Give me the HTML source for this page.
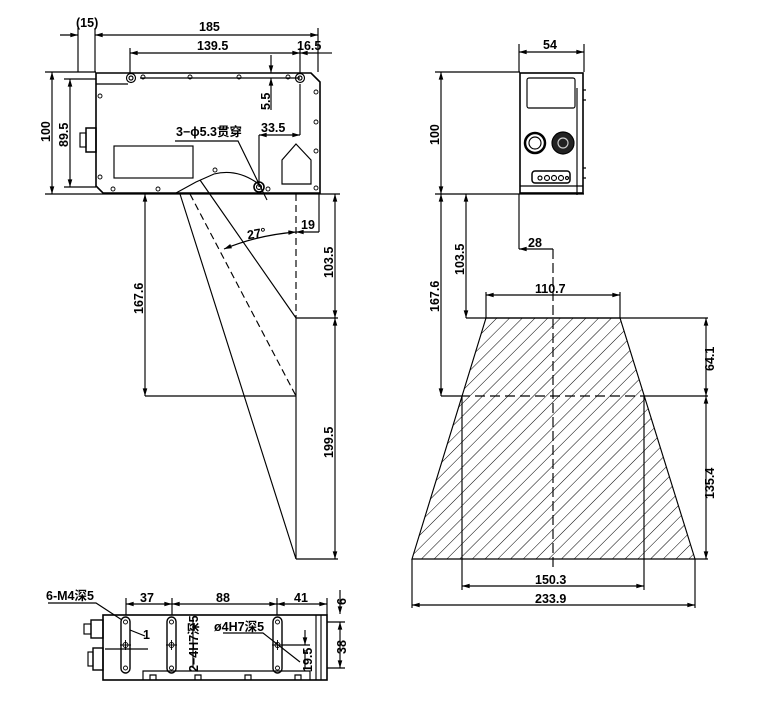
<!DOCTYPE html>
<html><head><meta charset="utf-8"><style>
html,body{margin:0;padding:0;background:#fff;}
svg{display:block;}
text{font-family:"Liberation Sans","Noto Sans CJK SC",sans-serif;font-size:12.5px;font-weight:600;fill:#000;}
</style></head><body>
<svg width="779" height="703" viewBox="0 0 779 703" xmlns="http://www.w3.org/2000/svg">
<defs>
<marker id="a" viewBox="0 0 10 6" refX="10" refY="3" markerWidth="8" markerHeight="4" orient="auto-start-reverse"><path d="M0,0L10,3L0,6z" fill="#000"/></marker>
<pattern id="h" width="9" height="9" patternUnits="userSpaceOnUse" patternTransform="rotate(45)"><line x1="0" y1="0" x2="0" y2="9" stroke="#000" stroke-width="1"/></pattern>
</defs>
<g stroke="#000" fill="none" stroke-width="1.15">
<path d="M96,73 L311,73 L320,82 L320,193 L103,193 L96,186 Z" stroke-width="1.6"/>
<path d="M96,84 L128,84 M140,78 L300,78"/>
<circle cx="131" cy="78" r="4.5"/><circle cx="131" cy="78" r="2"/>
<circle cx="300" cy="78" r="4.5"/><circle cx="300" cy="78" r="2"/>
<g stroke-width="0.9">
<circle cx="143" cy="77" r="2"/><circle cx="190" cy="77" r="2"/><circle cx="239" cy="77" r="2"/><circle cx="288" cy="77" r="2"/>
<circle cx="100" cy="96" r="2"/><circle cx="100" cy="177" r="2"/><circle cx="316" cy="92" r="2"/><circle cx="316" cy="122" r="2"/><circle cx="316" cy="151" r="2"/><circle cx="316" cy="188" r="2"/>
<circle cx="113" cy="189" r="2"/><circle cx="158" cy="189" r="2"/><circle cx="215" cy="170" r="2"/><circle cx="268" cy="189" r="2"/>
</g>
<rect x="114" y="146" width="79" height="32"/>
<path d="M296,144 L311,160 L311,184 L282,184 L282,160 Z"/>
<path d="M176,193 L196,182 L214,174 Q238,168 260,185"/>
<circle cx="259" cy="187" r="5" stroke-width="1.6"/><circle cx="259" cy="187" r="2.5"/>
<rect x="86" y="128" width="10" height="24" stroke-width="1.5"/><rect x="80" y="133" width="6" height="14"/>
<path d="M45,72 L96,72 M45,194 L340,194 M64,79 L96,79 M64,187 L96,187"/>
<path d="M52,72 L52,194" marker-start="url(#a)" marker-end="url(#a)"/>
<path d="M70,79 L70,187" marker-start="url(#a)" marker-end="url(#a)"/>
<path d="M78,28 L78,72 M95,28 L95,72 M318,28 L318,72"/>
<path d="M60,35 L78,35" marker-end="url(#a)"/><path d="M95,35 L318,35" marker-start="url(#a)" marker-end="url(#a)"/>
<path d="M130,48 L130,74 M300,48 L300,74"/>
<path d="M130,53 L300,53" marker-start="url(#a)" marker-end="url(#a)"/>
<path d="M300,53 L318,53" marker-start="url(#a)"/><path d="M318,53 L332,53"/>
<path d="M271,55 L271,73" marker-end="url(#a)"/><path d="M271,110 L271,78" marker-end="url(#a)"/>
<path d="M259,135 L300,135" marker-start="url(#a)" marker-end="url(#a)"/><path d="M300,84 L300,135 M259,135 L259,187"/>
<path d="M175,141 L238,141 L262,190"/><path d="M262,190 L267,200"/>
<path d="M180,194 L296,559 M200,180 L296,318"/>
<path d="M190,194 L296,396" stroke-dasharray="7,4"/>
<path d="M296,194 L296,318" stroke-dasharray="7,4"/>
<path d="M296,318 L296,559 M145,396 L296,396 M296,559 L338,559 M296,318 L338,318 M319,194 L319,232"/>
<path d="M335,194 L335,318" marker-start="url(#a)" marker-end="url(#a)"/>
<path d="M335,318 L335,559" marker-start="url(#a)" marker-end="url(#a)"/>
<path d="M145,194 L145,396" marker-start="url(#a)" marker-end="url(#a)"/>
<path d="M296,232 L319,232" marker-start="url(#a)"/>
<path d="M224,249 Q258,235 296,232" marker-start="url(#a)" marker-end="url(#a)"/>
<rect x="520" y="73" width="63" height="120" stroke-width="1.6"/>
<rect x="527" y="78" width="48" height="30" rx="2"/>
<path d="M577,88 L577,195 M520,186 L583,186 M583,90 L586,90 M583,100 L586,100 M583,168 L586,168 M583,178 L586,178"/>
<circle cx="535" cy="143" r="10" stroke-width="2.5"/><circle cx="535" cy="143" r="6"/>
<circle cx="563" cy="143" r="11" fill="#222"/><circle cx="563" cy="143" r="5" stroke="#ccc"/>
<rect x="532" y="171" width="38" height="12" rx="3" stroke-width="1.5"/>
<circle cx="540" cy="178" r="2"/><circle cx="547" cy="178" r="2.5"/><circle cx="554" cy="178" r="2.5"/><circle cx="561" cy="178" r="2.5"/><circle cx="567" cy="178" r="1.5"/>
<path d="M519,44 L519,72 M584,44 L584,72"/>
<path d="M519,52 L584,52" marker-start="url(#a)" marker-end="url(#a)"/>
<path d="M435,72 L520,72 M435,194 L584,194"/>
<path d="M441,72 L441,194" marker-start="url(#a)" marker-end="url(#a)"/>
<path d="M486,318 L620,318 L695,559 L412,559 Z" fill="url(#h)"/>
<path d="M466,318 L708,318 M441,396 L460,396 M646,396 L708,396 M695,559 L708,559"/>
<path d="M460,396 L646,396" stroke-dasharray="10,5"/>
<path d="M553,249 L553,570" stroke-dasharray="10,4"/>
<path d="M519,194 L519,249"/>
<path d="M519,249 L553,249" marker-start="url(#a)"/>
<path d="M486,292 L486,318 M620,292 L620,318"/>
<path d="M486,295 L620,295" marker-start="url(#a)" marker-end="url(#a)"/>
<path d="M441,194 L441,396" marker-start="url(#a)" marker-end="url(#a)"/>
<path d="M466,194 L466,318" marker-start="url(#a)" marker-end="url(#a)"/>
<path d="M706,318 L706,396" marker-start="url(#a)" marker-end="url(#a)"/>
<path d="M706,396 L706,559" marker-start="url(#a)" marker-end="url(#a)"/>
<path d="M462,396 L462,590 M644,396 L644,590 M412,559 L412,608 M695,559 L695,608"/>
<path d="M462,586 L644,586" marker-start="url(#a)" marker-end="url(#a)"/>
<path d="M412,605 L695,605" marker-start="url(#a)" marker-end="url(#a)"/>
<rect x="103" y="615" width="224" height="65" stroke-width="1.6"/>
<path d="M316,615 L316,680 M321,615 L321,680 M143,680 L143,671 L310,671 L310,680"/>
<path d="M150,680 L150,675 L156,675 L156,680 M195,680 L195,675 L201,675 L201,680 M245,680 L245,675 L251,675 L251,680 M295,680 L295,675 L301,675 L301,680"/>
<rect x="121" y="617" width="9" height="56" rx="4.5" stroke-width="1.4"/>
<rect x="167" y="617" width="9" height="56" rx="4.5" stroke-width="1.4"/>
<rect x="273" y="617" width="9" height="56" rx="4.5" stroke-width="1.4"/>
<g stroke-width="0.9">
<circle cx="125.5" cy="622" r="2"/><circle cx="125.5" cy="645" r="2.5"/><circle cx="125.5" cy="668" r="2"/>
<circle cx="171.5" cy="622" r="2"/><circle cx="171.5" cy="645" r="2.5"/><circle cx="171.5" cy="668" r="2"/>
<circle cx="277.5" cy="622" r="2"/><circle cx="277.5" cy="645" r="2.5"/><circle cx="277.5" cy="668" r="2"/>
<path d="M120,645 L131,645 M125.5,640 L125.5,650 M166,645 L177,645 M171.5,640 L171.5,650 M272,645 L283,645 M277.5,640 L277.5,650"/>
</g>
<rect x="91" y="620" width="12" height="18" stroke-width="1.4"/><rect x="84" y="624" width="7" height="10"/>
<rect x="93" y="648" width="10" height="22" stroke-width="1.4"/><rect x="88" y="652" width="5" height="14"/>
<path d="M126,598 L126,615 M172,598 L172,615 M277,598 L277,615 M327,598 L327,615"/>
<path d="M126,604 L172,604" marker-start="url(#a)" marker-end="url(#a)"/>
<path d="M172,604 L277,604" marker-start="url(#a)" marker-end="url(#a)"/>
<path d="M277,604 L327,604" marker-start="url(#a)" marker-end="url(#a)"/>
<path d="M327,622 L345,622 M327,668 L345,668 M282,645 L310,645"/>
<path d="M340,590 L340,614" marker-end="url(#a)"/><path d="M340,622 L340,668" marker-start="url(#a)" marker-end="url(#a)"/>
<path d="M305,630 L305,645" marker-end="url(#a)"/><path d="M305,668 L305,650"/>
<path d="M48,603 L96,603 L122,620"/>
<path d="M130,630 L145,636 M105,649 L148,649"/>
<path d="M223,633 L263,633 L300,662"/>
<path d="M193,618 L193,668"/>
</g>
<g>
<text x="76" y="27">(15)</text>
<text x="199" y="31">185</text>
<text x="197" y="50">139.5</text>
<text x="297" y="50">16.5</text>
<text x="261" y="132">33.5</text>
<text x="176" y="136">3−ϕ5.3贯穿</text>
<text transform="translate(50,142) rotate(-90)">100</text>
<text transform="translate(68,147) rotate(-90)">89.5</text>
<text transform="translate(270,110) rotate(-90)">5.5</text>
<text x="247" y="238" transform="rotate(-10 255 233)">27°</text>
<text x="301" y="229">19</text>
<text transform="translate(143,314) rotate(-90)">167.6</text>
<text transform="translate(333,278) rotate(-90)">103.5</text>
<text transform="translate(333,458) rotate(-90)">199.5</text>
<text x="543" y="49">54</text>
<text transform="translate(439,145) rotate(-90)">100</text>
<text x="528" y="247">28</text>
<text x="535" y="293">110.7</text>
<text transform="translate(439,312) rotate(-90)">167.6</text>
<text transform="translate(464,275) rotate(-90)">103.5</text>
<text transform="translate(714,371) rotate(-90)">64.1</text>
<text transform="translate(714,499) rotate(-90)">135.4</text>
<text x="535" y="584">150.3</text>
<text x="535" y="603">233.9</text>
<text x="46" y="600">6-M4深5</text>
<text x="140" y="602">37</text>
<text x="216" y="602">88</text>
<text x="294" y="602">41</text>
<text transform="translate(346,605) rotate(-90)">6</text>
<text transform="translate(346,654) rotate(-90)">38</text>
<text x="143" y="639">1</text>
<text transform="translate(198,672) rotate(-90)">2−4H7深5</text>
<text x="214" y="631">ø4H7深5</text>
<text transform="translate(312,672) rotate(-90)">19.5</text>
</g>
</svg>
</body></html>
